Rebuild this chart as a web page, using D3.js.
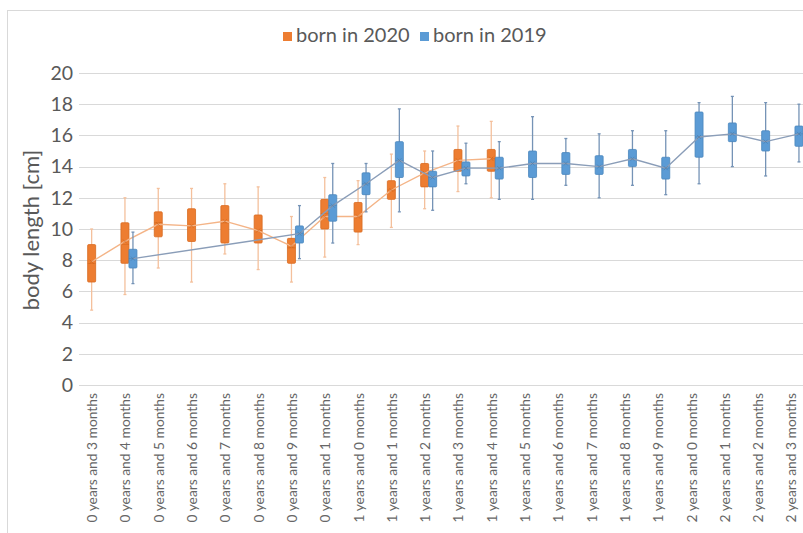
<!DOCTYPE html>
<html><head><meta charset="utf-8">
<script src="https://cdn.jsdelivr.net/npm/d3@7"></script>
<style>
html,body{margin:0;padding:0;background:#fff;overflow:hidden;}
svg{display:block;font-family:Lato,"Open Sans",sans-serif;}
</style></head>
<body><svg id="c" width="803" height="533"></svg>
<script>
const categories = ["0 years and 3 months","0 years and 4 months","0 years and 5 months","0 years and 6 months","0 years and 7 months","0 years and 8 months","0 years and 9 months","0 years and 1 months","1 years and 0 months","1 years and 1 months","1 years and 2 months","1 years and 3 months","1 years and 4 months","1 years and 5 months","1 years and 6 months","1 years and 7 months","1 years and 8 months","1 years and 9 months","2 years and 0 months","2 years and 1 months","2 years and 2 months","2 years and 3 months"];
const yTicks = [0,2,4,6,8,10,12,14,16,18,20];

// born in 2020 (orange)
const min2020    = [4.8,5.8,7.5,6.6,8.4,7.4,6.6,8.2,9.0,10.1,11.3,12.4,12.0];
const q1_2020    = [6.6,7.8,9.5,9.2,9.1,9.1,7.8,10.0,9.8,11.9,12.7,13.7,13.7];
const median2020 = [7.8,9.0,10.4,10.2,10.4,9.9,8.8,11.0,10.8,12.5,13.6,14.4,14.5];
const q3_2020    = [9.0,10.4,11.1,11.3,11.5,10.9,9.4,11.9,11.7,13.1,14.2,15.1,15.1];
const max2020    = [10.0,12.0,12.6,12.6,12.9,12.7,10.8,13.3,13.1,14.8,15.0,16.6,16.9];
const mean2020   = [7.9,9.2,10.3,10.2,10.5,9.9,8.9,10.8,10.8,12.5,13.6,14.4,14.5];

// born in 2019 (blue), null where no data
const min2019    = [null,6.5,null,null,null,null,8.1,9.1,11.1,11.1,11.2,12.9,11.9,11.9,12.8,12.0,12.8,12.2,12.9,14.0,13.4,14.3];
const q1_2019    = [null,7.5,null,null,null,null,9.1,10.5,12.2,13.3,12.7,13.4,13.2,13.3,13.5,13.5,14.0,13.2,14.6,15.6,15.0,15.3];
const median2019 = [null,8.1,null,null,null,null,9.7,11.5,12.9,14.4,13.3,13.9,13.9,14.2,14.2,14.0,14.5,13.9,15.9,16.1,15.6,16.1];
const q3_2019    = [null,8.7,null,null,null,null,10.2,12.2,13.6,15.6,13.7,14.3,14.6,15.0,14.9,14.7,15.1,14.6,17.5,16.8,16.3,16.6];
const max2019    = [null,9.8,null,null,null,null,11.5,14.2,14.2,17.7,15.0,15.5,15.6,17.2,15.8,16.1,16.3,16.3,18.1,18.5,18.1,18.0];
const mean2019   = [null,8.1,null,null,null,null,9.7,11.5,12.9,14.4,13.3,13.9,13.9,14.2,14.2,14.0,14.5,13.9,15.9,16.1,15.6,16.1];

const seriesNames = ["born in 2020","born in 2019"];

function build(mn,q1,md,q3,mx,me){
  return mn.map((d,i)=> d==null?null:{i, cat:categories[i], min:d,q1:q1[i],med:md[i],q3:q3[i],max:mx[i],mean:me[i]}).filter(d=>d);
}
const series = [
  {name:seriesNames[0], data:build(min2020,q1_2020,median2020,q3_2020,max2020,mean2020), off:-4, fill:"#ED7D31", stroke:"#D8691F", whisk:"#F4C09C", line:"#F4B487", mark:"#C55A11"},
  {name:seriesNames[1], data:build(min2019,q1_2019,median2019,q3_2019,max2019,mean2019), off:4, fill:"#5B9BD5", stroke:"#4A86BD", whisk:"#7593B6", line:"#8A9DB8", mark:"#41719C"}
];

const svg = d3.select("#c");
const left = 79, bw = 33.3;
const x = d3.scaleBand().domain(categories).range([left, left + bw*categories.length]).padding(0);
const y = d3.scaleLinear().domain([0,20]).range([385,73]);
const cx = c => x(c) + x.bandwidth()/2;

// chart border
svg.append("rect").attr("x",7.5).attr("y",10.5).attr("width",820).attr("height",540)
  .attr("fill","none").attr("stroke","#D9D9D9").attr("stroke-width",1);

// gridlines
svg.append("g").selectAll("line").data(yTicks).join("line")
  .attr("x1",left).attr("x2",x.range()[1])
  .attr("y1",d=>Math.round(y(d))+0.5).attr("y2",d=>Math.round(y(d))+0.5)
  .attr("stroke","#D9D9D9").attr("stroke-width",1);

// y axis labels
const yAxis = svg.append("g").attr("transform",`translate(${left-6},0)`)
  .call(d3.axisLeft(y).tickValues(yTicks).tickSize(0).tickPadding(0).tickFormat(d3.format("d")));
yAxis.select(".domain").remove();
yAxis.selectAll("text").attr("font-size",19.5).attr("fill","#595959").attr("font-family","Lato,'Open Sans',sans-serif");

// x axis labels
const xAxis = svg.append("g").attr("transform",`translate(0,${y(0)})`)
  .call(d3.axisBottom(x).tickSize(0).tickPadding(0));
xAxis.select(".domain").remove();
xAxis.selectAll("text")
  .attr("font-size",13.8).attr("fill","#666666").attr("font-family","Lato,'Open Sans',sans-serif")
  .attr("text-anchor","end").attr("dy",null).attr("y",0).attr("x",0)
  .attr("transform","translate(-2,8) rotate(-90)").attr("dominant-baseline","middle");

// y title
svg.append("text").attr("transform","translate(33,230) rotate(-90)")
  .attr("text-anchor","middle").attr("dominant-baseline","middle")
  .attr("font-size",22).attr("fill","#595959").text("body length [cm]");

// series
const bwid = 8;
series.forEach(s=>{
  const g = svg.append("g");
  const px = d => cx(d.cat) + s.off;
  g.selectAll(".w").data(s.data).join("line")
    .attr("x1",px).attr("x2",px).attr("y1",d=>y(d.max)).attr("y2",d=>y(d.min))
    .attr("stroke",s.whisk).attr("stroke-width",1.3);
  g.selectAll(".cap1").data(s.data).join("line")
    .attr("x1",d=>px(d)-1.5).attr("x2",d=>px(d)+1.5).attr("y1",d=>y(d.max)).attr("y2",d=>y(d.max))
    .attr("stroke",s.whisk).attr("stroke-width",1.3);
  g.selectAll(".cap2").data(s.data).join("line")
    .attr("x1",d=>px(d)-1.5).attr("x2",d=>px(d)+1.5).attr("y1",d=>y(d.min)).attr("y2",d=>y(d.min))
    .attr("stroke",s.whisk).attr("stroke-width",1.3);
  g.selectAll(".b").data(s.data).join("rect")
    .attr("x",d=>px(d)-bwid/2).attr("width",bwid)
    .attr("y",d=>y(d.q3)).attr("height",d=>y(d.q1)-y(d.q3))
    .attr("fill",s.fill).attr("stroke",s.stroke).attr("stroke-width",0.8).attr("rx",1);
  g.selectAll(".m").data(s.data).join("line")
    .attr("x1",d=>px(d)-bwid/2).attr("x2",d=>px(d)+bwid/2).attr("y1",d=>y(d.med)).attr("y2",d=>y(d.med))
    .attr("stroke",s.mark).attr("stroke-width",0.6).attr("opacity",0.6);
  g.append("path").datum(s.data)
    .attr("d",d3.line().x(px).y(d=>y(d.mean)))
    .attr("fill","none").attr("stroke",s.line).attr("stroke-width",1.4);
  g.selectAll(".x").data(s.data).join("path")
    .attr("d",d=>{const X=px(d),Y=y(d.mean),r=2;return `M${X-r},${Y-r}L${X+r},${Y+r}M${X-r},${Y+r}L${X+r},${Y-r}`;})
    .attr("stroke",s.mark).attr("stroke-width",0.8).attr("opacity",0.6);
});

// legend
const lg = svg.append("g");
const lx = [283, 420];
series.forEach((s,i)=>{
  lg.append("rect").attr("x",lx[i]).attr("y",32).attr("width",9).attr("height",9).attr("fill",s.fill);
  lg.append("text").attr("x",lx[i]+13).attr("y",37).attr("dominant-baseline","middle")
    .attr("font-size",20).attr("fill","#595959").text(s.name);
});
</script>
</body></html>
